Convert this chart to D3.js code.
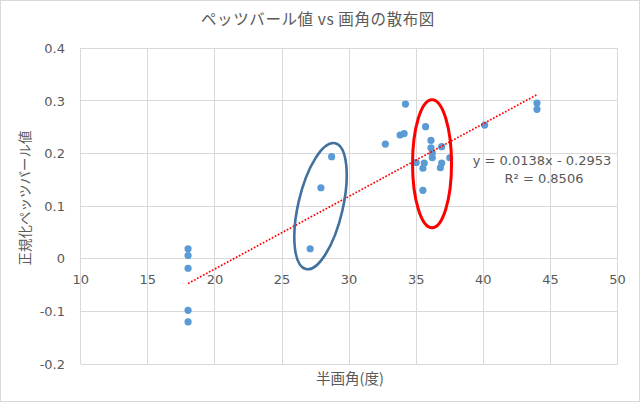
<!DOCTYPE html>
<html><head><meta charset="utf-8">
<script src="https://cdn.jsdelivr.net/npm/d3@7"></script>
<style>
html,body{margin:0;padding:0;background:#fff;}
svg text{font-family:"DejaVu Sans","Noto Sans CJK JP",sans-serif;fill:#595959;}
svg text.jp{font-family:"Noto Sans CJK JP","Noto Sans",sans-serif;}
</style></head>
<body><svg id="c" width="640" height="402"></svg>
<script>
// data
const xs = [18,18,18,18,18, 27.1,27.9,28.7, 32.7,33.8,34.1,34.2,35.0,35.5,35.5,35.6,35.7,36.1,36.1,36.2,36.2,36.8,36.9,36.9,37.5, 40.1,44.0,44.0];
const ys = [0.019,0.006,-0.018,-0.098,-0.120, 0.019,0.135,0.194, 0.218,0.235,0.238,0.294,0.183,0.130,0.172,0.182,0.251,0.225,0.211,0.201,0.192,0.173,0.182,0.213,0.192, 0.254,0.296,0.284];
const xTicks = [10,15,20,25,30,35,40,45,50];
const yTicks = [-0.2,-0.1,0,0.1,0.2,0.3,0.4];
const yTickLabels = ["-0.2","-0.1","0","0.1","0.2","0.3","0.4"];
const trendSlope = 0.0138, trendIntercept = -0.2953;
const trendRange = [18,44];
const trendLabel = ["y = 0.0138x - 0.2953", "R² = 0.8506"];
const title = "ペッツバール値 vs 画角の散布図";
const xTitle = "半画角(度)";
const yTitle = "正規化ペッツバール値";
// annotation ellipses: center in data units
const ellCenters = [[27.87, 0.100], [36.18, 0.1806]];

const svg = d3.select("#c");
svg.append("rect").attr("x",0.5).attr("y",0.5).attr("width",639).attr("height",401)
  .attr("fill","#fff").attr("stroke","#D9D9D9");

const x = d3.scaleLinear().domain([10,50]).range([80.7,617.5]);
const y = d3.scaleLinear().domain([-0.2,0.4]).range([364,48.3]);

const g = svg.append("g");
// gridlines
g.selectAll("line.h").data(yTicks).enter().append("line")
  .attr("x1",x(10)).attr("x2",x(50)).attr("y1",d=>y(d)).attr("y2",d=>y(d))
  .attr("stroke","#D9D9D9").attr("stroke-width",1).attr("shape-rendering","crispEdges");
g.selectAll("line.v").data(xTicks).enter().append("line")
  .attr("y1",y(-0.2)).attr("y2",y(0.4)).attr("x1",d=>x(d)).attr("x2",d=>x(d))
  .attr("stroke","#D9D9D9").attr("stroke-width",1).attr("shape-rendering","crispEdges");

// y tick labels
g.selectAll("text.yl").data(yTicks).enter().append("text")
  .attr("x",65).attr("y",d=>y(d)+4.7).attr("text-anchor","end")
  .style("font-size","13px").text((d,i)=>yTickLabels[i]);
// x tick labels (axis crosses at 0)
g.selectAll("text.xl").data(xTicks).enter().append("text")
  .attr("x",d=>x(d)).attr("y",y(0)+25.5).attr("text-anchor","middle")
  .style("font-size","13px").text(d=>d);

// points
g.selectAll("circle").data(xs.map((v,i)=>[v,ys[i]])).enter().append("circle")
  .attr("cx",d=>x(d[0])).attr("cy",d=>y(d[1])).attr("r",3.6).attr("fill","#5B9BD5");

// trendline
g.append("line")
  .attr("x1",x(trendRange[0])).attr("y1",y(trendSlope*trendRange[0]+trendIntercept))
  .attr("x2",x(trendRange[1])).attr("y2",y(trendSlope*trendRange[1]+trendIntercept))
  .attr("stroke","#FF0000").attr("stroke-width",1.7).attr("stroke-dasharray","1.7 1.7");

// ellipses
const ellStyle = [{rx:22.3, ry:64.6, rot:13.1, c:"#41719C", w:2.6},{rx:19.5, ry:64, rot:0, c:"#FF0000", w:3}];
ellCenters.forEach((c,i)=>{
  const s = ellStyle[i];
  g.append("ellipse").attr("cx",0).attr("cy",0).attr("rx",s.rx).attr("ry",s.ry)
    .attr("transform",`translate(${x(c[0])},${y(c[1])}) rotate(${s.rot})`)
    .attr("fill","none").attr("stroke",s.c).attr("stroke-width",s.w);
});

// trend label
svg.append("text").attr("x",542).attr("y",164.7).attr("text-anchor","middle")
  .style("font-size","13px").text(trendLabel[0]);
svg.append("text").attr("x",544).attr("y",182.7).attr("text-anchor","middle")
  .style("font-size","13px").text(trendLabel[1]);

// titles
svg.append("text").attr("class","jp").attr("x",318).attr("y",25).attr("text-anchor","middle")
  .style("font-size","15.5px").style("letter-spacing","0.6px").text(title);
svg.append("text").attr("class","jp").attr("x",350).attr("y",383.5).attr("text-anchor","middle")
  .style("font-size","14.5px").text(xTitle);
svg.append("text").attr("class","jp").attr("transform","translate(30,198) rotate(-90)").attr("text-anchor","middle")
  .style("font-size","13.5px").text(yTitle);
</script></body></html>
